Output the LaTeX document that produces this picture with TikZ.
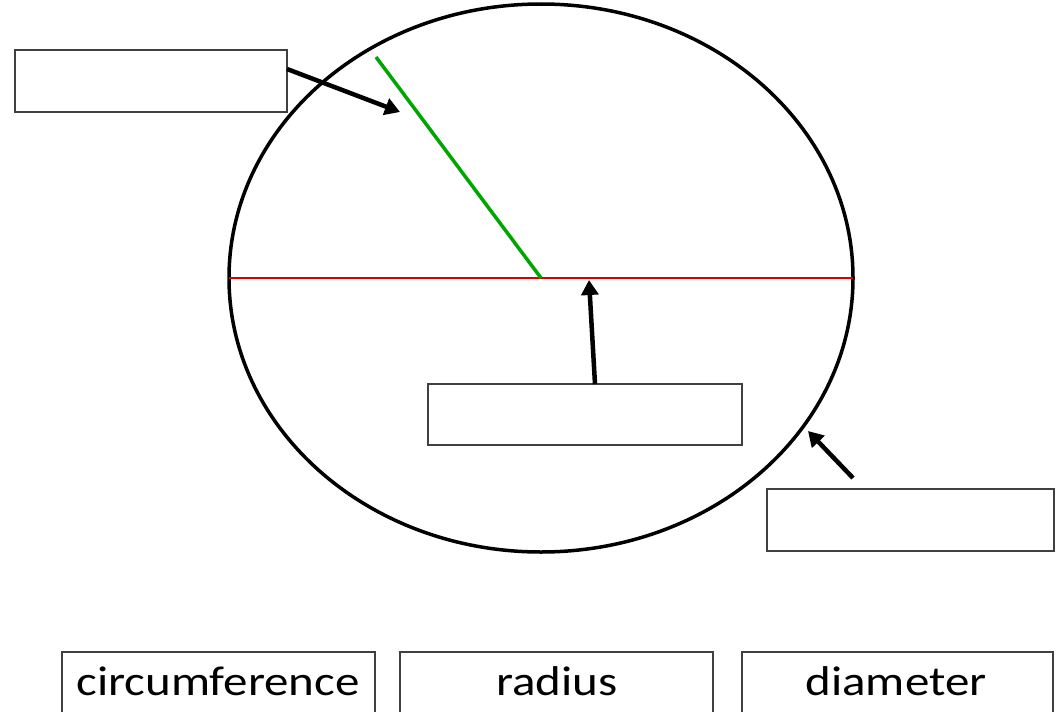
\documentclass[tikz,border=0pt]{standalone}
\usepackage{fontspec}
\setmainfont{Carlito}
\usetikzlibrary{arrows.meta,shapes.geometric}
\begin{document}
\begin{tikzpicture}[x=1pt,y=-1pt,
  lblbox/.style={draw=black!75,line width=1.5pt,fill=white,inner sep=0pt},
  ptr/.style={line width=4.5pt,-{Triangle[length=15pt,width=17pt]}},
  word/.style={font=\fontsize{49}{52}\selectfont,anchor=base,inner sep=0pt,text depth=0pt}]
\useasboundingbox (0,0) rectangle (1063,712);
\fill[white] (0,0) rectangle (1063,712);
% circle
\node[draw,ellipse,line width=3.5pt,minimum width=624pt,minimum height=548pt,inner sep=0pt] (circ) at (541,278) {};
\coordinate (L) at (229,278);
\coordinate (R) at (853,278);
\coordinate (C) at (541,278);
\coordinate (G) at (376,57);
\draw[red!85!black,line width=1.8pt] (L) -- (R);
\draw[green!65!black,line width=3.5pt] (C) -- (G);
% empty label boxes
\draw[lblbox] (15,50) rectangle (287,112);
\draw[lblbox] (428,384) rectangle (742,445);
\draw[lblbox] (767,489) rectangle (1054,551);
\coordinate (a1s) at (287,69);
\coordinate (a1e) at (400,112);
\coordinate (a2s) at (595,384);
\coordinate (a2e) at (589,280);
\coordinate (a3s) at (853,478);
\coordinate (a3e) at (808,431);
\draw[ptr] (a1s) -- (a1e);
\draw[ptr] (a2s) -- (a2e);
\draw[ptr] (a3s) -- (a3e);
% word boxes
\draw[lblbox] (62,652) rectangle (375,720);
\draw[lblbox] (400,652) rectangle (713,720);
\draw[lblbox] (742,652) rectangle (1053,720);
\node[word] (w1) at (218,695) {\scalebox{1}[0.85]{circumference}};
\node[word] (w2) at (557,695) {\scalebox{1}[0.85]{radius}};
\node[word] (w3) at (896,695) {\scalebox{1}[0.85]{diameter}};
\end{tikzpicture}
\end{document}
